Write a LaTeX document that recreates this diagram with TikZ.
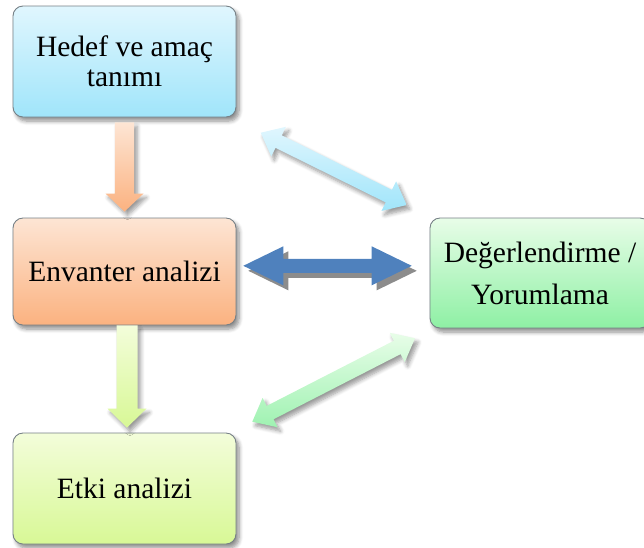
\documentclass[tikz,border=0pt]{standalone}
\usepackage{fontspec}
\setmainfont{Liberation Serif}
\usetikzlibrary{calc,shadows.blur}

\definecolor{boxedge}{RGB}{118,128,134}
\definecolor{blueTop}{RGB}{224,246,254}
\definecolor{blueBot}{RGB}{160,229,250}
\definecolor{orangeTop}{RGB}{253,229,212}
\definecolor{orangeBot}{RGB}{251,178,128}
\definecolor{limeTop}{RGB}{243,253,218}
\definecolor{limeBot}{RGB}{216,248,150}
\definecolor{greenTop}{RGB}{232,253,232}
\definecolor{greenBot}{RGB}{142,240,164}
\definecolor{midBlue}{RGB}{79,129,189}
\definecolor{midShadow}{RGB}{140,140,140}

\tikzset{
  box/.style={rounded corners=10pt, draw=boxedge, line width=0.9pt,
    minimum width=223pt, minimum height=111pt, inner sep=0pt,
    align=center, font=\rmfamily\fontsize{29.5}{30}\selectfont,
    blur shadow={shadow xshift=3pt, shadow yshift=-4pt,
      shadow blur steps=6, shadow opacity=45, shadow blur radius=4pt}},
  softshadow/.style={blur shadow={shadow xshift=3pt, shadow yshift=-4pt,
      shadow blur steps=6, shadow opacity=40, shadow blur radius=4pt}},
}

% double-headed block arrow from tip #1 to tip #2
% #3 head length, #4 head half width, #5 shaft half width, #6 path options
\newcommand\dblarrow[6]{%
  \path[#6] (#1)
    -- ($(#1)!#3!(#2)!#4!90:(#2)$)
    -- ($(#1)!#3!(#2)!#5!90:(#2)$)
    -- ($(#2)!#3!(#1)!#5!-90:(#1)$)
    -- ($(#2)!#3!(#1)!#4!-90:(#1)$)
    -- (#2)
    -- ($(#2)!#3!(#1)!#4!90:(#1)$)
    -- ($(#2)!#3!(#1)!#5!90:(#1)$)
    -- ($(#1)!#3!(#2)!#5!-90:(#2)$)
    -- ($(#1)!#3!(#2)!#4!-90:(#2)$)
    -- cycle;}

% single-headed block arrow from tail #1 to tip #2
\newcommand\sglarrow[6]{%
  \path[#6] ($(#1)!#5!90:(#2)$)
    -- ($(#2)!#3!(#1)!#5!-90:(#1)$)
    -- ($(#2)!#3!(#1)!#4!-90:(#1)$)
    -- (#2)
    -- ($(#2)!#3!(#1)!#4!90:(#1)$)
    -- ($(#2)!#3!(#1)!#5!90:(#1)$)
    -- ($(#1)!#5!-90:(#2)$)
    -- cycle;}

\begin{document}
\begin{tikzpicture}[x=1pt,y=-1pt]
  \useasboundingbox (0,0) rectangle (644,547);
  \clip (0,0) rectangle (644,547);

  % process boxes
  \node[box, top color=blueTop, bottom color=blueBot] (hedef) at (124.5,61.5)
    {Hedef ve amaç\\tanımı};
  \node[box, top color=orangeTop, bottom color=orangeBot,
        minimum height=107pt] (envanter) at (124.5,271.5) {Envanter analizi};
  \node[box, top color=limeTop, bottom color=limeBot] (etki) at (124.5,488.5)
    {Etki analizi};
  \node[box, top color=greenTop, bottom color=greenBot,
        minimum width=220pt, minimum height=110pt] (deger) at (540,273)
    {Değerlendirme /\\[12pt]Yorumlama};

  % arrow end points
  \coordinate (a1s) at ($(hedef.south)+(0,5)$);
  \coordinate (a1e) at ($(envanter.north)+(0,-6)$);
  \coordinate (a2s) at ($(envanter.south)+(2.5,0)$);
  \coordinate (a2e) at ($(etki.north)+(2.5,-5)$);
  \coordinate (b1) at (260.7,132.7);
  \coordinate (b2) at (406.7,205);
  \coordinate (m1) at (243.3,265.8);
  \coordinate (m2) at (411.7,265.8);
  \coordinate (g1) at (415,338.3);
  \coordinate (g2) at (252.3,421.7);

  % downward flow arrows
  \sglarrow{a1s}{a1e}{18pt}{19pt}{9.7pt}
    {top color=orangeTop, bottom color=orangeBot, softshadow}
  \sglarrow{a2s}{a2e}{19pt}{19.5pt}{10.5pt}
    {top color=limeTop, bottom color=limeBot, softshadow}

  % feedback arrows to the evaluation box
  \dblarrow{b1}{b2}{20pt}{16.5pt}{7pt}
    {top color=blueTop, bottom color=blueBot, softshadow}
  \dblarrow{g1}{g2}{20pt}{16.5pt}{7.5pt}
    {top color=greenTop, bottom color=greenBot!85!white, softshadow}

  % central two-way arrow with hard shadow
  \begin{scope}[transform canvas={xshift=5pt, yshift=-5pt}]
    \dblarrow{m1}{m2}{40pt}{19.5pt}{7pt}{fill=midShadow}
  \end{scope}
  \dblarrow{m1}{m2}{40pt}{19.5pt}{7pt}{fill=midBlue}
\end{tikzpicture}
\end{document}
